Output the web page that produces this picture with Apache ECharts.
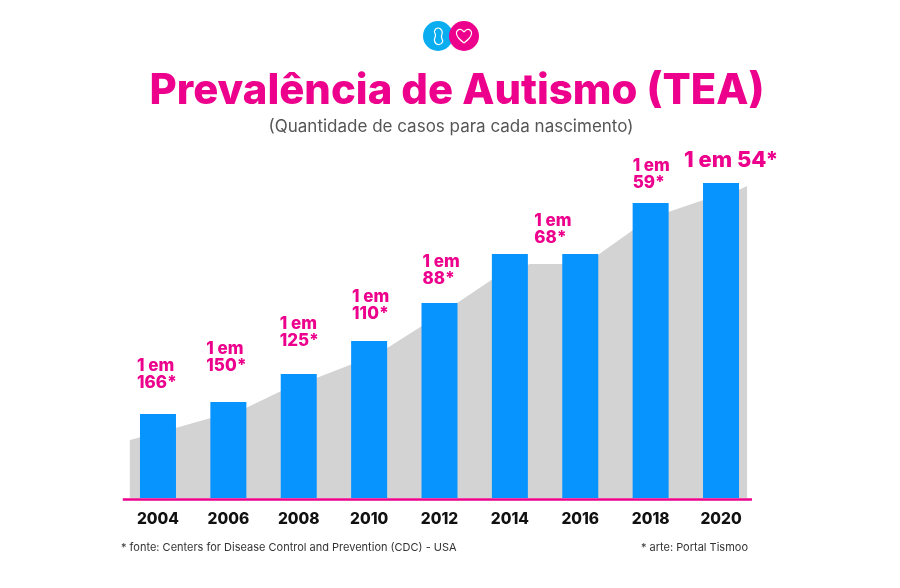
<!DOCTYPE html>
<html><head><meta charset="utf-8">
<style>html,body{margin:0;padding:0;background:#fff}#c{width:900px;height:588px}</style>
<script src="https://cdn.jsdelivr.net/npm/echarts@6/dist/echarts.min.js"></script>
</head><body><div id="c"></div>
<script>
const years = [2004,2006,2008,2010,2012,2014,2016,2018,2020];
const barValues = [84,96,124,157,195,244,244,295,315];
const ratioLabels = ['1 em\n166*','1 em\n150*','1 em\n125*','1 em\n110*','1 em\n88*','','1 em\n68*','1 em\n59*','1 em 54*'];
const areaYears = [2003.2,2004.5,2005.4,2006.44,2007.5,2008.5,2009.6,2010.56,2011.5,2012.5,2013.6,2014.57,2015.5,2016.5,2017.5,2018.5,2019.5,2020.5,2020.74];
const areaValues = [58,70,79,89,107,120,135,151,172,195,221,234,234,243,268,286,298,308,312];
const baseYears = [2003,2020.88];
const labelPlace = [[-3,-57],[-4,-62],[-1,-59],[1,-53],[1,-50],[0,0],[-28,-42],[0,-46],[-19,-34]];

const PINK='#ec008c', FONT='Inter, sans-serif';
const chart = echarts.init(document.getElementById('c'),null,{renderer:'canvas'});
chart.setOption({
  animation:false,
  title:[
    {text:'Prevalência de Autismo (TEA)',left:452,textAlign:'center',top:65,textStyle:{color:PINK,fontFamily:FONT,fontWeight:800,fontSize:41.8}},
    {text:'(Quantidade de casos para cada nascimento)',left:446,textAlign:'center',top:113,textStyle:{color:'#555',fontFamily:FONT,fontWeight:400,fontSize:17}},
    {text:'* fonte: Centers for Disease Control and Prevention (CDC) - USA',left:116,top:537,textStyle:{color:'#333',fontFamily:FONT,fontWeight:400,fontSize:11}},
    {text:'* arte: Portal Tismoo',right:147,top:537,textStyle:{color:'#333',fontFamily:FONT,fontWeight:400,fontSize:11}}
  ],
  grid:{left:87.6,right:108.6,top:149,bottom:80},
  xAxis:{type:'value',min:2002,max:2022,interval:2,
    axisLine:{show:false},axisTick:{show:false},splitLine:{show:false},
    axisLabel:{margin:3,color:'#111',fontFamily:FONT,fontWeight:800,fontSize:15.5,
      formatter:v=>years.includes(v)?String(v):''}},
  yAxis:{type:'value',min:-10,max:349,show:false},
  series:[
    {type:'line',data:areaYears.map((y,i)=>[y,areaValues[i]]),symbol:'none',silent:true,z:1,
      lineStyle:{width:0},itemStyle:{color:'#d3d3d3'},areaStyle:{color:'#d3d3d3',opacity:1,origin:0}},
    {type:'bar',barWidth:36,z:2,
      data:years.map((y,i)=>({value:[y,barValues[i]],
        label:{show:!!ratioLabels[i],formatter:ratioLabels[i],position:labelPlace[i],
          fontSize:i===8?22:17,lineHeight:i===8?22:17}})),
      itemStyle:{color:'#0894ff'},
      label:{show:true,color:PINK,fontFamily:FONT,fontWeight:800,align:'left',verticalAlign:'top'}},
    {type:'line',data:baseYears.map(y=>[y,-1.5]),symbol:'none',silent:true,z:3,
      lineStyle:{color:PINK,width:2.5},itemStyle:{color:PINK}}
  ],
  graphic:[
    {type:'circle',shape:{cx:438,cy:36,r:15},style:{fill:'#0aaef0'},z:10},
    {type:'circle',shape:{cx:464,cy:36,r:15},style:{fill:PINK},z:11},
    {type:'polygon',z:12,shape:{smooth:0.5,points:[[438,28],[442,31],[441.5,37],[442.5,42],[438,44.5],[434.5,41],[435.5,35],[434.5,31]]},
      style:{fill:'none',stroke:'#fff',lineWidth:1.2}},
    {type:'polyline',z:12,shape:{smooth:0.3,points:[[464,32],[461,29.5],[457.5,30.5],[456.5,34],[459,38.5],[464,43]]},
      style:{fill:'none',stroke:'#fff',lineWidth:1.2}},
    {type:'polyline',z:12,shape:{smooth:0.3,points:[[464,32],[467,29.5],[470.5,30.5],[471.5,34],[469,38.5],[464,43]]},
      style:{fill:'none',stroke:'#fff',lineWidth:1.2}}
  ]
});
</script></body></html>
